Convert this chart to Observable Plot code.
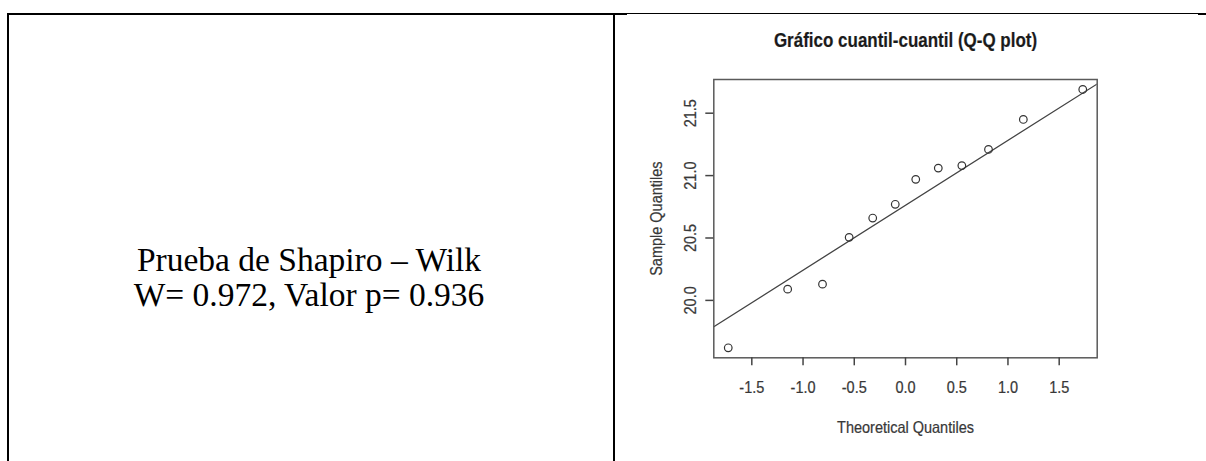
<!DOCTYPE html>
<html><head><meta charset="utf-8">
<script src="https://cdn.jsdelivr.net/npm/d3@7"></script>
<script src="https://cdn.jsdelivr.net/npm/@observablehq/plot@0.6"></script>
<style>
html,body{margin:0;padding:0;background:#fff;width:1206px;height:461px;overflow:hidden;}
.b{position:absolute;background:#000;}
#txt{position:absolute;left:9px;width:600px;top:242px;text-align:center;font-family:"Liberation Serif","Times New Roman",serif;font-size:33.5px;line-height:35px;color:#000;}
#chart{position:absolute;left:615px;top:0;}
</style></head><body>
<div class="b" style="left:7px;top:13px;width:620px;height:2px"></div>
<div class="b" style="left:627px;top:13px;width:572px;height:1px"></div>
<div class="b" style="left:1198px;top:13px;width:8px;height:2px"></div>
<div class="b" style="left:7px;top:13px;width:2px;height:448px"></div>
<div class="b" style="left:613px;top:13px;width:2px;height:448px"></div>
<div id="txt"></div>
<div id="chart"></div>
<script>
const leftLines = ["Prueba de Shapiro – Wilk", "W= 0.972, Valor p= 0.936"];
const title = "Gráfico cuantil-cuantil (Q-Q plot)";
const xLabel = "Theoretical Quantiles";
const yLabel = "Sample Quantiles";
const theoretical = [-1.73, -1.15, -0.81, -0.55, -0.32, -0.10, 0.10, 0.32, 0.55, 0.81, 1.15, 1.73];
const sample = [19.62, 20.09, 20.13, 20.505, 20.66, 20.77, 20.97, 21.06, 21.08, 21.21, 21.45, 21.69];
const xTicks = [-1.5, -1.0, -0.5, 0.0, 0.5, 1.0, 1.5];
const yTicks = [20.0, 20.5, 21.0, 21.5];
const xDomain = [-1.871, 1.871];
const yDomain = [19.54, 21.77];

document.getElementById("txt").innerHTML = leftLines.map(s => `<div>${s}</div>`).join("");

const pts = theoretical.map((t, i) => ({t, s: sample[i]}));
// qqline through the quartiles (as R's qqline does)
const zq = 0.6745;
const q1 = d3.quantile(sample, 0.25), q3 = d3.quantile(sample, 0.75);
const slope = (q3 - q1) / (2 * zq);
const intercept = (q1 + q3) / 2;
const lineData = xDomain.map(x => ({t: x, s: intercept + slope * x}));

const fmt = d => d.toFixed(1);
const ink = "#383838";
const fs = 14.5;

const chart = Plot.plot({
  width: 591, height: 461,
  marginLeft: 98.3, marginRight: 109.3, marginTop: 79, marginBottom: 103.7,
  style: {fontFamily: "'Liberation Sans', Arial, sans-serif", background: "transparent", color: ink},
  x: {domain: xDomain},
  y: {domain: yDomain},
  marks: [
    Plot.line(lineData, {x: "t", y: "s", stroke: "#444", strokeWidth: 1.3, clip: true}),
    Plot.dot(pts, {x: "t", y: "s", r: 3.8, stroke: "#333", strokeWidth: 1.2, fill: "none"}),
    Plot.frame({stroke: "#5a5a5a", strokeWidth: 1.5}),
    Plot.axisX({ticks: xTicks, tickSize: 8, tickFormat: () => "", label: null, stroke: "#444", strokeWidth: 1.5}),
    Plot.axisY({ticks: yTicks, tickSize: 8, tickFormat: () => "", label: null, stroke: "#444", strokeWidth: 1.5}),
    Plot.text(xTicks, {x: d => d, text: fmt, frameAnchor: "bottom", dy: 29.4, lineAnchor: "middle", fontSize: fs, fill: ink}),
    Plot.text(yTicks, {y: d => d, text: fmt, frameAnchor: "left", dx: -23, rotate: -90, textAnchor: "middle", lineAnchor: "middle", fontSize: fs, fill: ink}),
    Plot.text([xLabel], {text: d => d, frameAnchor: "bottom", dy: 69.4, lineAnchor: "middle", fontSize: fs, fill: ink}),
    Plot.text([yLabel], {text: d => d, frameAnchor: "left", dx: -57, rotate: -90, textAnchor: "middle", lineAnchor: "middle", fontSize: fs, fill: ink}),
    Plot.text([title], {text: d => d, frameAnchor: "top", dy: -38.3, lineAnchor: "middle", fontSize: 17, fontWeight: "bold", fill: "#1a1a1a"})
  ]
});
// R's bitmap text renders taller and heavier: stretch glyphs vertically a little
chart.querySelectorAll("text").forEach(el => {
  const tr = el.getAttribute("transform");
  if (tr) el.setAttribute("transform", tr + " scale(1,1.15)");
  el.setAttribute("stroke", el.getAttribute("fill") || ink);
  el.setAttribute("stroke-width", "0.2");
});
document.getElementById("chart").appendChild(chart);
</script>
</body></html>
